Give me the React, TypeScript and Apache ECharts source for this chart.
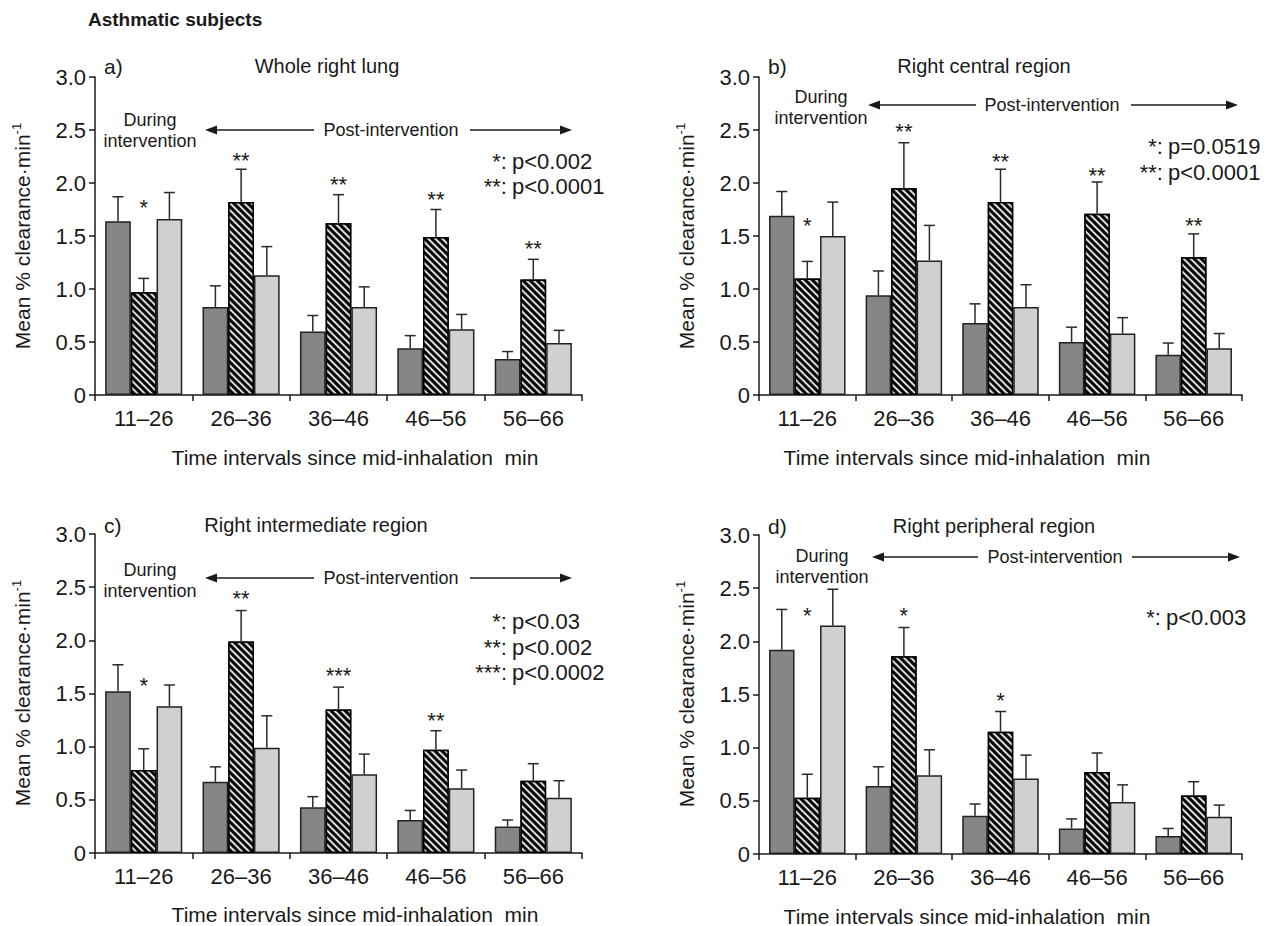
import React, { useEffect, useRef } from 'react';
import * as echarts from 'echarts';

// ---------- data ----------
const categories = ['11–26', '26–36', '36–46', '46–56', '56–66'];

// a) Whole right lung
const wholeDark = [1.64, 0.83, 0.6, 0.44, 0.34];
const wholeDarkSem = [0.23, 0.2, 0.15, 0.12, 0.07];
const wholeHatch = [0.97, 1.82, 1.62, 1.49, 1.09];
const wholeHatchSem = [0.13, 0.31, 0.27, 0.26, 0.19];
const wholeLight = [1.66, 1.13, 0.83, 0.62, 0.49];
const wholeLightSem = [0.25, 0.27, 0.19, 0.14, 0.12];
const wholeStars = ['*', '**', '**', '**', '**'];
const wholeStarLevels = [1.82, 2.26, 2.03, 1.89, 1.43];
const wholeLegendStars = ['*', '**'];
const wholeLegendText = ['p<0.002', 'p<0.0001'];

// b) Right central region
const centralDark = [1.69, 0.94, 0.68, 0.5, 0.38];
const centralDarkSem = [0.23, 0.23, 0.18, 0.14, 0.11];
const centralHatch = [1.1, 1.95, 1.82, 1.71, 1.3];
const centralHatchSem = [0.16, 0.43, 0.31, 0.3, 0.22];
const centralLight = [1.5, 1.27, 0.83, 0.58, 0.44];
const centralLightSem = [0.32, 0.33, 0.21, 0.15, 0.14];
const centralStars = ['*', '**', '**', '**', '**'];
const centralStarLevels = [1.65, 2.53, 2.25, 2.12, 1.65];
const centralLegendStars = ['*', '**'];
const centralLegendText = ['p=0.0519', 'p<0.0001'];

// c) Right intermediate region
const interDark = [1.52, 0.67, 0.43, 0.31, 0.25];
const interDarkSem = [0.25, 0.14, 0.1, 0.09, 0.06];
const interHatch = [0.78, 1.99, 1.35, 0.97, 0.68];
const interHatchSem = [0.2, 0.29, 0.21, 0.18, 0.16];
const interLight = [1.38, 0.99, 0.74, 0.61, 0.52];
const interLightSem = [0.2, 0.3, 0.19, 0.17, 0.16];
const interStars = ['*', '**', '***', '**', ''];
const interStarLevels = [1.62, 2.44, 1.72, 1.29, 0];
const interLegendStars = ['*', '**', '***'];
const interLegendText = ['p<0.03', 'p<0.002', 'p<0.0002'];

// d) Right peripheral region
const periDark = [1.92, 0.64, 0.36, 0.24, 0.17];
const periDarkSem = [0.38, 0.18, 0.11, 0.09, 0.07];
const periHatch = [0.53, 1.86, 1.15, 0.77, 0.55];
const periHatchSem = [0.22, 0.27, 0.19, 0.18, 0.13];
const periLight = [2.15, 0.74, 0.71, 0.49, 0.35];
const periLightSem = [0.34, 0.24, 0.22, 0.16, 0.11];
const periStars = ['*', '*', '*', '', ''];
const periStarLevels = [2.29, 2.29, 1.49, 0, 0];
const periLegendStars = ['*'];
const periLegendText = ['p<0.003'];

const panelTitles = ['Whole right lung', 'Right central region', 'Right intermediate region', 'Right peripheral region'];
const panelLetters = ['a)', 'b)', 'c)', 'd)'];
const yAxisTitle = 'Mean % clearance·min';
const yAxisTitleSup = '-1';
const xAxisTitle = 'Time intervals since mid-inhalation  min';
const duringText = ['During', 'intervention'];
const postText = 'Post-intervention';
const header = 'Asthmatic subjects';

// ---------- styling / layout ----------
const FONT = "'Liberation Sans', Arial, Helvetica, sans-serif";
const INK = '#1a1a1a';
const BAR_FRAC = 0.264;

const panels = [
  { dark: wholeDark, darkSem: wholeDarkSem, hatch: wholeHatch, hatchSem: wholeHatchSem, light: wholeLight, lightSem: wholeLightSem, stars: wholeStars, starLevels: wholeStarLevels, legendStars: wholeLegendStars, legendText: wholeLegendText },
  { dark: centralDark, darkSem: centralDarkSem, hatch: centralHatch, hatchSem: centralHatchSem, light: centralLight, lightSem: centralLightSem, stars: centralStars, starLevels: centralStarLevels, legendStars: centralLegendStars, legendText: centralLegendText },
  { dark: interDark, darkSem: interDarkSem, hatch: interHatch, hatchSem: interHatchSem, light: interLight, lightSem: interLightSem, stars: interStars, starLevels: interStarLevels, legendStars: interLegendStars, legendText: interLegendText },
  { dark: periDark, darkSem: periDarkSem, hatch: periHatch, hatchSem: periHatchSem, light: periLight, lightSem: periLightSem, stars: periStars, starLevels: periStarLevels, legendStars: periLegendStars, legendText: periLegendText },
];

const layouts = [
  { grid: { left: 95, top: 77, width: 487, height: 318 }, letter: [104, 66], title: [327, 66], yTitle: [22, 236], xTitle: [355, 457], during: [150, 120], arrowY: 130, arrow: [205, 314, 391, 470, 572], legendX: 512, legendY: [161, 186] },
  { grid: { left: 759, top: 77, width: 483, height: 318 }, letter: [768, 66], title: [984, 66], yTitle: [686, 236], xTitle: [967, 457], during: [821, 97], arrowY: 105, arrow: [868, 976, 1052, 1131, 1238], legendX: 1168, legendY: [146, 172] },
  { grid: { left: 95, top: 534, width: 487, height: 319 }, letter: [104, 525], title: [316, 525], yTitle: [22, 693], xTitle: [355, 914], during: [150, 570], arrowY: 578, arrow: [205, 314, 391, 470, 572], legendX: 512, legendY: [621, 647, 672] },
  { grid: { left: 759, top: 535, width: 483, height: 319 }, letter: [768, 526], title: [994, 526], yTitle: [686, 694], xTitle: [967, 916], during: [822, 556], arrowY: 557, arrow: [872, 978, 1055, 1132, 1240], legendX: 1166, legendY: [617] },
];

function textEl(x: number, y: number, text: string, size: number, align = 'left', extra: any = {}) {
  return {
    type: 'text', x, y, silent: true,
    style: { text, fill: INK, fontSize: size, fontFamily: FONT, align, verticalAlign: 'middle', ...extra },
  };
}

function buildOption() {
  const grid: any[] = [];
  const xAxis: any[] = [];
  const yAxis: any[] = [];
  const series: any[] = [];
  const graphic: any[] = [];

  graphic.push(textEl(88, 19, header, 19, 'left', { fontWeight: 'bold' }));

  panels.forEach((p, i) => {
    const L = layouts[i];
    grid.push({ ...L.grid, outerBoundsMode: 'none', containLabel: false });
    xAxis.push({
      type: 'category', gridIndex: i, data: categories,
      axisLine: { show: true, lineStyle: { color: INK, width: 1.5 } },
      axisTick: { show: true, length: 6, alignWithLabel: false, lineStyle: { color: INK, width: 1.5 } },
      axisLabel: { color: INK, fontSize: 22, fontFamily: FONT, margin: 12, interval: 0 },
      splitLine: { show: false },
    });
    yAxis.push({
      type: 'value', gridIndex: i, min: 0, max: 3, interval: 0.5,
      axisLine: { show: true, lineStyle: { color: INK, width: 1.5 } },
      axisTick: { show: true, length: 6, lineStyle: { color: INK, width: 1.5 } },
      axisLabel: { color: INK, fontSize: 22, fontFamily: FONT, margin: 9, formatter: (v: number) => (v === 0 ? '0' : v.toFixed(1)) },
      splitLine: { show: false },
    });

    const barCommon = { type: 'bar', xAxisIndex: i, yAxisIndex: i, barWidth: (BAR_FRAC * 100).toFixed(1) + '%', barGap: '0%', silent: true };
    series.push({ ...barCommon, name: 'dark', data: p.dark, itemStyle: { color: '#868686', borderColor: '#222', borderWidth: 1.5 } });
    series.push({
      ...barCommon, name: 'hatched', data: p.hatch,
      itemStyle: {
        color: '#050505', borderColor: '#000', borderWidth: 1.5,
        decal: { symbol: 'rect', symbolSize: 1, color: '#dcdcdc', dashArrayX: [1, 0], dashArrayY: [2, 3], rotation: Math.PI / 4 },
      },
    });
    series.push({ ...barCommon, name: 'light', data: p.light, itemStyle: { color: '#d0d0d0', borderColor: '#222', borderWidth: 1.5 } });

    const errData: number[][] = [];
    const groups = [[p.dark, p.darkSem], [p.hatch, p.hatchSem], [p.light, p.lightSem]];
    categories.forEach((_, c) => {
      groups.forEach(([m, s], k) => errData.push([c, k, m[c], s[c]]));
    });
    series.push({
      type: 'custom', xAxisIndex: i, yAxisIndex: i, silent: true, z: 5,
      dimensions: ['cat', 'pos', 'mean', 'sem'],
      encode: { x: 0, y: 2 },
      data: errData,
      renderItem: (params: any, api: any) => {
        const c = api.value(0), k = api.value(1), m = api.value(2), s = api.value(3);
        const bw = api.size([1, 0])[0] * BAR_FRAC;
        const base = api.coord([c, m]);
        const top = api.coord([c, m + s]);
        const x = base[0] + (k - 1) * bw;
        const st = { stroke: '#2a2a2a', lineWidth: 1.5 };
        return {
          type: 'group',
          children: [
            { type: 'line', shape: { x1: x, y1: base[1], x2: x, y2: top[1] }, style: st },
            { type: 'line', shape: { x1: x - 5.5, y1: top[1], x2: x + 5.5, y2: top[1] }, style: st },
          ],
        };
      },
    });

    const starData: number[][] = [];
    const starTexts: string[] = [];
    p.stars.forEach((t, c) => {
      if (t) { starData.push([c, p.starLevels[c]]); starTexts.push(t); }
    });
    series.push({
      type: 'custom', xAxisIndex: i, yAxisIndex: i, silent: true, z: 6,
      encode: { x: 0, y: 1 },
      data: starData,
      renderItem: (params: any, api: any) => {
        const pt = api.coord([api.value(0), api.value(1)]);
        return {
          type: 'text', x: pt[0], y: pt[1] + 5,
          style: { text: starTexts[params.dataIndex], fill: INK, fontSize: 22, fontFamily: FONT, align: 'center', verticalAlign: 'middle' },
        };
      },
    });

    // texts
    graphic.push(textEl(L.letter[0], L.letter[1], panelLetters[i], 21, 'left'));
    graphic.push(textEl(L.title[0], L.title[1], panelTitles[i], 20, 'center'));
    graphic.push(textEl(L.xTitle[0], L.xTitle[1], xAxisTitle, 21, 'center'));
    graphic.push({
      type: 'text', x: L.yTitle[0], y: L.yTitle[1], rotation: Math.PI / 2, silent: true,
      style: {
        text: `{m|${yAxisTitle}}{s|${yAxisTitleSup}}`, align: 'center', verticalAlign: 'middle',
        rich: {
          m: { fontSize: 21, fontFamily: FONT, fill: INK, lineHeight: 24 },
          s: { fontSize: 13, fontFamily: FONT, fill: INK, verticalAlign: 'top', lineHeight: 24 },
        },
      },
    });
    graphic.push(textEl(L.during[0], L.during[1], duringText[0], 18, 'center'));
    graphic.push(textEl(L.during[0], L.during[1] + 21, duringText[1], 18, 'center'));
    const [lt, le, tx, rs, rt] = L.arrow;
    const ay = L.arrowY;
    graphic.push(textEl(tx, ay, postText, 18, 'center'));
    graphic.push({ type: 'line', silent: true, shape: { x1: lt + 8, y1: ay, x2: le, y2: ay }, style: { stroke: INK, lineWidth: 1.5 } });
    graphic.push({ type: 'polygon', silent: true, shape: { points: [[lt, ay], [lt + 12, ay - 4.5], [lt + 12, ay + 4.5]] }, style: { fill: INK } });
    graphic.push({ type: 'line', silent: true, shape: { x1: rs, y1: ay, x2: rt - 8, y2: ay }, style: { stroke: INK, lineWidth: 1.5 } });
    graphic.push({ type: 'polygon', silent: true, shape: { points: [[rt, ay], [rt - 12, ay - 4.5], [rt - 12, ay + 4.5]] }, style: { fill: INK } });

    p.legendStars.forEach((s, j) => {
      graphic.push(textEl(L.legendX - 5, L.legendY[j], s + ':', 22, 'right'));
      graphic.push(textEl(L.legendX, L.legendY[j], p.legendText[j], 22, 'left'));
    });
  });

  return { animation: false, backgroundColor: '#fff', grid, xAxis, yAxis, series, graphic };
}

export default function App() {
  const ref = useRef<HTMLDivElement>(null);
  useEffect(() => {
    const chart = echarts.init(ref.current!, null, { renderer: 'svg' });
    chart.setOption(buildOption() as any);
    return () => chart.dispose();
  }, []);
  return <div ref={ref} style={{ position: 'fixed', left: 0, top: 0, width: 1272, height: 926, background: '#fff' }} />;
}
